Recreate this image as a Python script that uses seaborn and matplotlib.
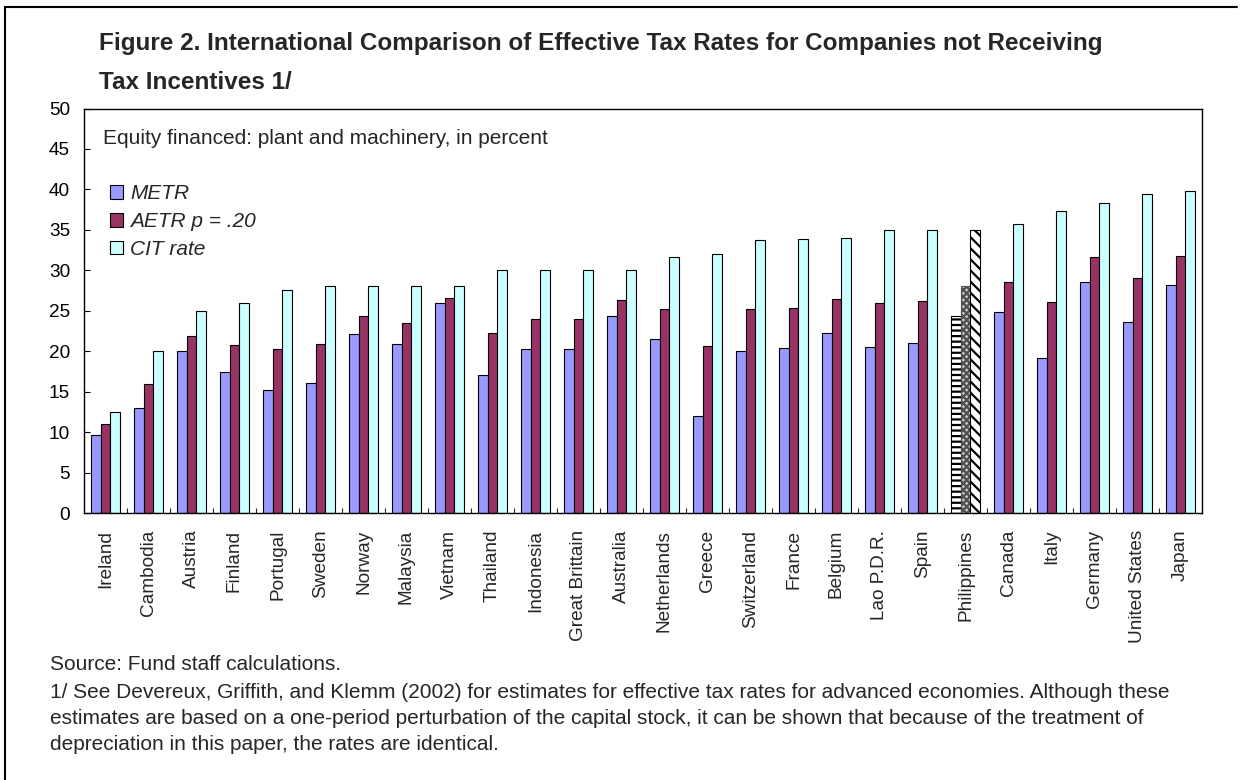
import numpy as np
import pandas as pd
import matplotlib
matplotlib.use("Agg")
import matplotlib.pyplot as plt
from matplotlib.lines import Line2D
from matplotlib.ticker import FixedLocator
import seaborn as sns

countries = ["Ireland", "Cambodia", "Austria", "Finland", "Portugal", "Sweden", "Norway",
             "Malaysia", "Vietnam", "Thailand", "Indonesia", "Great Brittain", "Australia",
             "Netherlands", "Greece", "Switzerland", "France", "Belgium", "Lao P.D.R.",
             "Spain", "Philippines", "Canada", "Italy", "Germany", "United States", "Japan"]
metr = [9.7, 13.0, 20.0, 17.4, 15.2, 16.1, 22.1, 20.9, 25.9, 17.1, 20.3, 20.3, 24.3,
        21.5, 12.0, 20.0, 20.4, 22.2, 20.5, 21.0, 24.3, 24.8, 19.1, 28.6, 23.6, 28.2]
aetr = [11.0, 16.0, 21.9, 20.8, 20.3, 20.9, 24.3, 23.5, 26.6, 22.2, 24.0, 24.0, 26.3,
        25.2, 20.6, 25.2, 25.4, 26.5, 26.0, 26.2, 28.0, 28.5, 26.1, 31.6, 29.1, 31.8]
cit = [12.5, 20.0, 25.0, 26.0, 27.6, 28.0, 28.0, 28.0, 28.0, 30.0, 30.0, 30.0, 30.0,
       31.6, 32.0, 33.7, 33.9, 34.0, 35.0, 35.0, 35.0, 35.7, 37.3, 38.3, 39.4, 39.8]
series_names = ["METR", "AETR p = .20", "CIT rate"]
series_colors = ["#9999FF", "#993366", "#CCFFFF"]
yticks = [0, 5, 10, 15, 20, 25, 30, 35, 40, 45, 50]

title_lines = ["Figure 2. International Comparison of Effective Tax Rates for Companies not Receiving",
               "Tax Incentives 1/"]
subtitle_text = "Equity financed: plant and machinery, in percent"
source_text = "Source: Fund staff calculations."
note_lines = [
    "1/ See Devereux, Griffith, and Klemm (2002) for estimates for effective tax rates for advanced economies. Although these",
    "estimates are based on a one-period perturbation of the capital stock, it can be shown that because of the treatment of",
    "depreciation in this paper, the rates are identical.",
]

df = pd.DataFrame({
    "country": countries * 3,
    "series": [series_names[0]] * len(countries) + [series_names[1]] * len(countries)
              + [series_names[2]] * len(countries),
    "value": metr + aetr + cit,
})

sns.set_style("ticks")
plt.rcParams["font.family"] = ["Liberation Sans", "DejaVu Sans"]
plt.rcParams["hatch.linewidth"] = 1.6

W, H = 1242, 780
fig = plt.figure(figsize=(W / 100, H / 100), dpi=100)
ax_l, ax_r, ax_t, ax_b = 84, 1202, 108.5, 513
ax = fig.add_axes([ax_l / W, 1 - ax_b / H, (ax_r - ax_l) / W, (ax_b - ax_t) / H])

sns.barplot(data=df, x="country", y="value", hue="series", order=countries,
            hue_order=series_names, palette=dict(zip(series_names, series_colors)),
            saturation=1, width=0.67, edgecolor="black", linewidth=0.8, ax=ax,
            errorbar=None, legend=True)

# Philippines: patterned bars
pi = countries.index("Philippines")
patterns = [("white", "---", "black"), ("#c8c8c8", "xxxxx", "#505050"), ("white", "\\\\\\", "black")]
for cont, (fc, hatch, ec) in zip(ax.containers, patterns):
    bar = cont[pi]
    bar.set_facecolor(fc)
    bar.set_hatch(hatch)
    bar.set_edgecolor(ec)

ax.set_ylim(0, 50)
ax.set_xlim(-0.5, len(countries) - 0.5)
ax.set_yticks(yticks)
ax.set_xlabel("")
ax.set_ylabel("")
for s in ax.spines.values():
    s.set_visible(True)
    s.set_linewidth(1.0)
    s.set_color("black")
ax.tick_params(axis="y", direction="in", length=4, width=0.8, labelsize=13.7, pad=10, colors="black")
ax.tick_params(axis="x", which="major", length=0, labelsize=13.7, labelrotation=90, pad=12)
ax.xaxis.set_minor_locator(FixedLocator(np.arange(0.5, len(countries) - 0.5, 1)))
ax.tick_params(axis="x", which="minor", direction="in", length=3.5, width=0.8)

handles, labels = ax.get_legend_handles_labels()
ax.legend(handles, labels, loc="upper left", bbox_to_anchor=(0.0233, 0.813), frameon=False,
          prop={"style": "italic", "size": 15}, handlelength=0.62, handleheight=0.62,
          handletextpad=0.34, labelspacing=0.43, borderaxespad=0, borderpad=0)

fig.text(103 / W, 1 - 138 / H, subtitle_text, fontsize=15, va="center", ha="left")

fig.text(99 / W, 1 - 50 / H, title_lines[0], fontsize=17.5, fontweight="bold",
         va="baseline", ha="left")
fig.text(99 / W, 1 - 89 / H, title_lines[1], fontsize=17.5, fontweight="bold",
         va="baseline", ha="left")

fig.text(50 / W, 1 - 664 / H, source_text, fontsize=15, va="center", ha="left")
for k, line in enumerate(note_lines):
    fig.text(50 / W, 1 - (692 + 26 * k) / H, line, fontsize=15, va="center", ha="left")

# outer frame (top and left edges)
fig.add_artist(Line2D([5 / W, 1237 / W], [1 - 7 / H, 1 - 7 / H], transform=fig.transFigure,
                      color="black", lw=1.5))
fig.add_artist(Line2D([5 / W, 5 / W], [0, 1 - 7 / H], transform=fig.transFigure,
                      color="black", lw=1.5))

fig.savefig("out.png", dpi=100)
